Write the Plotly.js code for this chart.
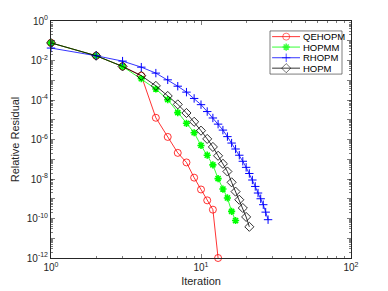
<!DOCTYPE html>
<html>
<head>
<meta charset="utf-8">
<script src="https://cdn.plot.ly/plotly-3.0.1.min.js"></script>
<style>html,body{margin:0;padding:0;background:#fff;}#chart{width:388px;height:291px;}</style>
</head>
<body>
<div id="chart"></div>
<script>
// Iteration counts
const iterQEHOPM = [1,2,3,4,5,6,7,8,9,10,11,12,13];
const iterHOPMM  = [1,2,3,4,5,6,7,8,9,10,11,12,13,14,15,16,17];
const iterRHOPM  = [1,2,3,4,5,6,7,8,9,10,11,12,13,14,15,16,17,18,19,20,21,22,23,24,25,26,27,28];
const iterHOPM   = [1,2,3,4,5,6,7,8,9,10,11,12,13,14,15,16,17,18,19,20,21];

// Relative residuals
const resQEHOPM = [7.8e-2,1.74e-2,5.0e-3,1.7e-3,1.26e-5,1.35e-6,2.1e-7,6.9e-8,1.17e-8,2.95e-9,8.3e-10,2.8e-10,1.0e-12];
const resHOPMM  = [7.8e-2,1.74e-2,5.0e-3,1.2e-3,3.6e-4,1.05e-4,2.3e-5,6.6e-6,2.2e-6,5.0e-7,1.6e-7,5.2e-8,1.05e-8,3.1e-9,1.1e-9,2.3e-10,7.9e-11];
const resRHOPM  = [4.27e-2,1.74e-2,9.3e-3,4.6e-3,2.3e-3,1.05e-3,5.0e-4,2.5e-4,1.2e-4,5.8e-5,2.6e-5,1.23e-5,6.0e-6,3.0e-6,1.4e-6,6.6e-7,3.3e-7,1.6e-7,7.9e-8,3.9e-8,1.9e-8,8.9e-9,4.2e-9,1.95e-9,1.0e-9,5.0e-10,2.1e-10,8.7e-11];
const resHOPM   = [7.8e-2,1.74e-2,5.0e-3,1.7e-3,5.2e-4,1.6e-4,6.0e-5,2.2e-5,7.9e-6,2.8e-6,1.07e-6,4.2e-7,1.5e-7,5.9e-8,2.4e-8,6.8e-9,2.3e-9,8.9e-10,3.4e-10,1.2e-10,3.8e-11];

const seriesNames = ['QEHOPM','HOPMM','RHOPM','HOPM'];

// Tick labels
const xTickVals = [1,10,100];
const xTickText = ['10<sup>0</sup>','10<sup>1</sup>','10<sup>2</sup>'];
const yTickVals = [1,1e-1,1e-2,1e-3,1e-4,1e-5,1e-6,1e-7,1e-8,1e-9,1e-10,1e-11,1e-12];
const yTickText = ['10<sup>0</sup>','','10<sup>-2</sup>','','10<sup>-4</sup>','','10<sup>-6</sup>','','10<sup>-8</sup>','','10<sup>-10</sup>','','10<sup>-12</sup>'];

function minorLog(lo, hi){
  const v=[];
  for(let e=lo;e<hi;e++){for(let d=2;d<=9;d++){v.push(d*Math.pow(10,e));}}
  return v;
}

const styles = [
  {color:'#ff0000', symbol:'circle-open', size:7, lw:0.8},
  {color:'#00ff00', symbol:'asterisk-open', size:6, lw:1.6},
  {color:'#0000ff', symbol:'cross-thin-open', size:6, lw:1},
  {color:'#000000', symbol:'diamond-open', size:7, lw:0.8}
];
const xs = [iterQEHOPM, iterHOPMM, iterRHOPM, iterHOPM];
const ys = [resQEHOPM, resHOPMM, resRHOPM, resHOPM];

const traces = [];
for (let i=0;i<4;i++){
  const s = styles[i];
  traces.push({x:xs[i], y:ys[i], name:seriesNames[i], mode:'lines+markers', cliponaxis:false, showlegend:false,
    line:{color:s.color,width:0.8},
    marker:{symbol:s.symbol,size:s.size,color:s.color,line:{width:s.lw,color:s.color}}});
}

// Custom compact legend (MATLAB style) drawn on an overlay axis in plot-fraction units
const legX0 = 0.73, legX1 = 0.97, legY0 = 0.776, legY1 = 0.958;
const legRows = [0.934, 0.890, 0.845, 0.801];
const legLine = [0.737, 0.83], legMark = 0.784, legText = 0.833;
const annotations = [];
for (let i=0;i<4;i++){
  const s = styles[i];
  traces.push({x:[legLine[0], legMark, legLine[1]], y:[legRows[i],legRows[i],legRows[i]], xaxis:'x2', yaxis:'y2',
    mode:'lines+markers', showlegend:false, hoverinfo:'skip', cliponaxis:false,
    line:{color:s.color,width:0.8},
    marker:{symbol:s.symbol,size:[0,s.size,0],color:s.color,line:{width:s.lw,color:s.color}}});
  annotations.push({xref:'x2', yref:'y2', x:legText, y:legRows[i], text:seriesNames[i], showarrow:false,
    xanchor:'left', yanchor:'middle', font:{family:'Liberation Sans, Arial, sans-serif', size:9.5, color:'#000'}});
}

const axisCommon = {
  showline:true, linecolor:'#262626', linewidth:1, mirror:'allticks',
  ticks:'inside', ticklen:4, tickcolor:'#262626', tickwidth:0.6,
  showgrid:false, zeroline:false,
  tickfont:{family:'Liberation Sans, Arial, sans-serif', size:10, color:'#262626'}
};

const layout = {
  width:388, height:291,
  margin:{l:51, r:37, t:21, b:33},
  paper_bgcolor:'#ffffff', plot_bgcolor:'#ffffff',
  showlegend:false,
  annotations: annotations,
  shapes:[{type:'rect', xref:'x2', yref:'y2', x0:legX0, x1:legX1, y0:legY0, y1:legY1,
           line:{color:'#262626', width:0.6}, fillcolor:'#ffffff', layer:'below'}],
  xaxis: Object.assign({}, axisCommon, {
    type:'log', range:[0,2], tickmode:'array', tickvals:xTickVals, ticktext:xTickText,
    minor:{tickmode:'array', tickvals:minorLog(0,2), ticks:'inside', ticklen:2, tickcolor:'#262626', tickwidth:0.6},
    title:{text:'Iteration', standoff:5, font:{family:'Liberation Sans, Arial, sans-serif', size:11, color:'#262626'}}
  }),
  yaxis: Object.assign({}, axisCommon, {
    type:'log', range:[-12,0], tickmode:'array', tickvals:yTickVals, ticktext:yTickText,
    minor:{tickmode:'array', tickvals:minorLog(-12,0), ticks:'inside', ticklen:2, tickcolor:'#262626', tickwidth:0.6},
    title:{text:'Relative Residual', standoff:4, font:{family:'Liberation Sans, Arial, sans-serif', size:11, color:'#262626'}}
  }),
  xaxis2:{overlaying:'x', range:[0,1], visible:false, fixedrange:true},
  yaxis2:{overlaying:'y', range:[0,1], visible:false, fixedrange:true}
};

Plotly.newPlot('chart', traces, layout, {displayModeBar:false, staticPlot:true});
</script>
</body>
</html>
